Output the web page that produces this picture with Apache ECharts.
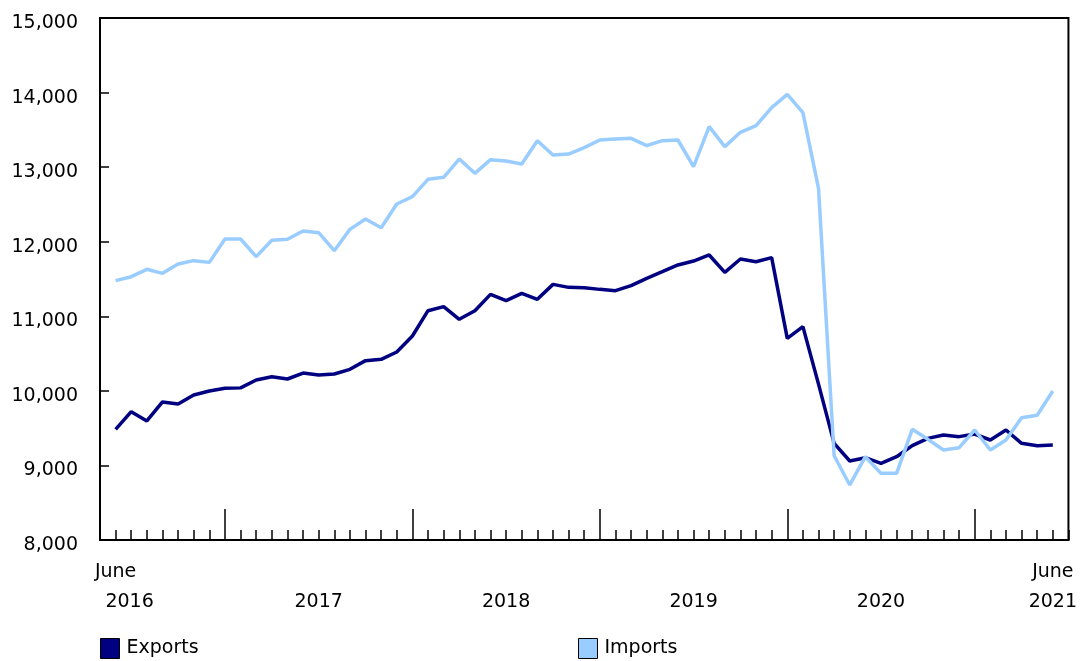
<!DOCTYPE html>
<html>
<head>
<meta charset="utf-8">
<script src="https://cdn.jsdelivr.net/npm/echarts@6/dist/echarts.min.js"></script>
<style>
  html, body { margin: 0; padding: 0; background: #fff; }
  #main { width: 1080px; height: 661px; }
</style>
</head>
<body>
<div id="main"></div>
<script>
var myChart = echarts.init(document.getElementById('main'));

// monthly values, June 2016 .. June 2021 (index 0 .. 60)
var exportsData = [
  9484, 9721, 9596, 9851, 9824, 9944, 9998, 10034, 10040, 10146,
  10190, 10159, 10239, 10213, 10226, 10289, 10405, 10423, 10521, 10736,
  11075, 11129, 10959, 11075, 11294, 11209, 11308, 11227, 11428, 11388,
  11384, 11361, 11344, 11411, 11509, 11598, 11688, 11741, 11822, 11589,
  11768, 11732, 11786, 10704, 10861, 10090, 9296, 9059, 9104, 9028,
  9117, 9265, 9363, 9408, 9386, 9421, 9341, 9475, 9296, 9265, 9274
];
var importsData = [
  11478, 11531, 11630, 11576, 11701, 11746, 11723, 12036, 12036, 11800,
  12019, 12032, 12144, 12121, 11880, 12166, 12305, 12188, 12506, 12604,
  12837, 12863, 13109, 12917, 13100, 13082, 13042, 13355, 13163, 13176,
  13261, 13364, 13377, 13386, 13288, 13355, 13364, 13006, 13543, 13275,
  13467, 13556, 13798, 13976, 13731, 12716, 9130, 8738, 9117, 8894,
  8894, 9484, 9350, 9207, 9238, 9475, 9207, 9341, 9640, 9672, 9998
];

// x axis: january positions (long ticks) and label positions
var januaryTicks = [7, 19, 31, 43, 55];
var labelPositions = [0, 13, 25, 37, 49, 60];
var labelTexts = ['June\n{off|2016}', '\n2017', '\n2018', '\n2019', '\n2020', 'June\n2021'];

var font = 'DejaVu Sans';

function toPairs(arr) {
    return arr.map(function (v, i) { return [i, v]; });
}

var legendBase = {
    top: 638,
    padding: 0,
    icon: 'rect',
    itemWidth: 19,
    itemHeight: 20,
    itemStyle: { borderColor: '#000', borderWidth: 1 },
    textStyle: { fontFamily: font, fontSize: 19, color: '#000', padding: [3, 0, 0, 2] }
};

var option = {
    animation: false,
    grid: {
        left: 100,
        right: 11,
        top: 18,
        bottom: 121,
        show: true,
        borderColor: '#000',
        borderWidth: 2
    },
    legend: [
        Object.assign({ data: ['Exports'], left: 100 }, legendBase),
        Object.assign({ data: ['Imports'], left: 578 }, legendBase)
    ],
    xAxis: [
        {
            type: 'value',
            min: -1,
            max: 61,
            interval: 1,
            splitLine: { show: false },
            axisLine: { onZero: false, lineStyle: { color: '#000', width: 2 } },
            axisTick: {
                inside: true,
                length: 10,
                lineStyle: { color: '#000', width: 1.5 }
            },
            axisLabel: {
                customValues: labelPositions,
                margin: 17,
                fontFamily: font,
                fontSize: 19,
                lineHeight: 30,
                color: '#000',
                formatter: function (v) {
                    var k = labelPositions.indexOf(Math.round(v));
                    return k < 0 ? '' : labelTexts[k];
                },
                rich: {
                    off: {
                        fontFamily: font,
                        fontSize: 19,
                        lineHeight: 30,
                        color: '#000',
                        padding: [0, 0, 0, 28]
                    }
                }
            }
        },
        {
            type: 'value',
            min: -1,
            max: 61,
            position: 'bottom',
            splitLine: { show: false },
            axisLine: { show: false, onZero: false },
            axisLabel: { show: false },
            axisTick: {
                customValues: januaryTicks,
                inside: true,
                length: 31,
                lineStyle: { color: '#000', width: 1.5 }
            }
        }
    ],
    yAxis: {
        type: 'value',
        min: 8000,
        max: 15000,
        interval: 1000,
        splitLine: { show: false },
        axisLine: { show: true, onZero: false, lineStyle: { color: '#000', width: 2 } },
        axisTick: {
            show: true,
            inside: true,
            length: 9,
            lineStyle: { color: '#000', width: 1.5 }
        },
        axisLabel: {
            margin: 22,
            fontFamily: font,
            fontSize: 19,
            color: '#000',
            formatter: function (v) { return '{n|' + v.toLocaleString('en-US') + '}'; },
            rich: {
                n: {
                    fontFamily: font,
                    fontSize: 19,
                    color: '#000',
                    padding: [10, 0, 0, 0]
                }
            }
        }
    },
    series: [
        {
            name: 'Exports',
            type: 'line',
            data: toPairs(exportsData),
            showSymbol: false,
            symbol: 'none',
            color: '#000080',
            lineStyle: { color: '#000080', width: 3.5 }
        },
        {
            name: 'Imports',
            type: 'line',
            data: toPairs(importsData),
            showSymbol: false,
            symbol: 'none',
            color: '#99ccff',
            lineStyle: { color: '#99ccff', width: 3.5 }
        }
    ]
};

myChart.setOption(option);
</script>
</body>
</html>
